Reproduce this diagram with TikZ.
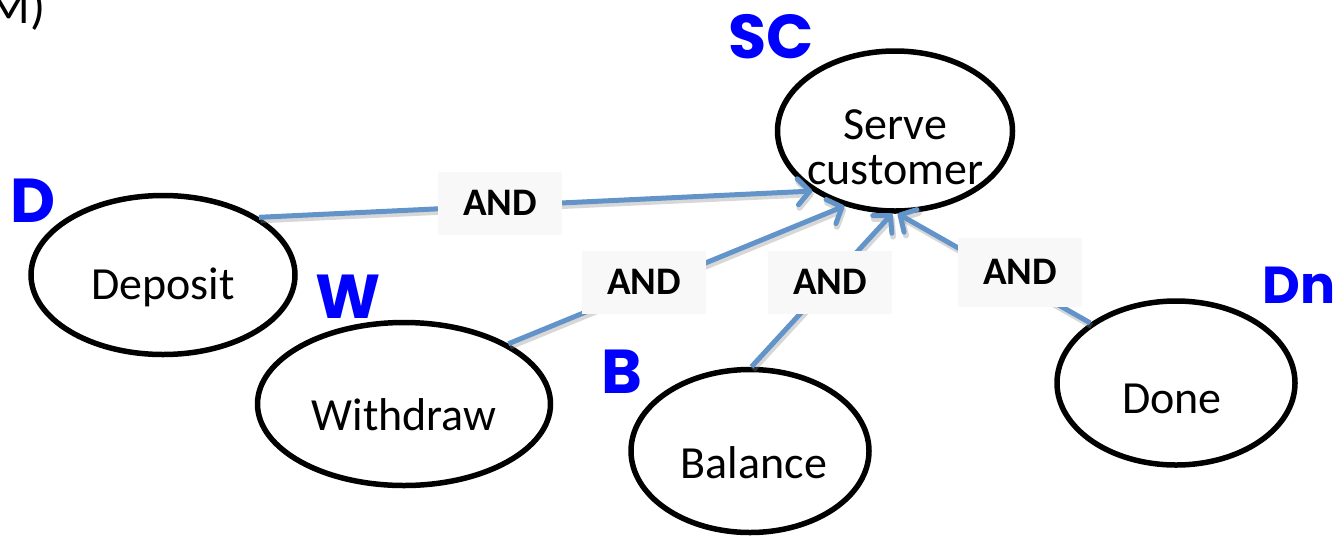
\documentclass[tikz,border=0pt]{standalone}
\usepackage{fontspec}
\setmainfont{Carlito}
\newfontfamily\handfont{Poppins}
\usetikzlibrary{shapes.geometric,arrows.meta}
\definecolor{linkblue}{RGB}{98,148,202}
\definecolor{tagblue}{RGB}{0,0,255}
\definecolor{boxgray}{RGB}{248,248,248}
\tikzset{
  goal/.style={ellipse, draw=black, line width=5.5pt, inner sep=0pt},
  goaltext/.style={anchor=base, inner sep=0pt, align=center,
    font=\fontsize{46}{45}\selectfont},
  link/.style={draw=linkblue, line width=5pt,
    -{Straight Barb[length=12pt,width=26pt,round]}},
  linkshadow/.style={draw=black!45, opacity=.35, line width=6pt,
    -{Straight Barb[length=12pt,width=26pt,round]},
    transform canvas={shift={(1.5pt,-3pt)}}},
  andbox/.style={fill=boxgray, inner sep=0pt, minimum width=124pt,
    minimum height=63pt, font=\fontsize{39}{44}\selectfont\bfseries},
  tag/.style={text=tagblue, inner sep=0pt, anchor=base,
    font=\handfont\bfseries\fontsize{62}{62}\selectfont}
}
\begin{document}
\begin{tikzpicture}[x=1pt,y=-1pt]
\useasboundingbox (0,0) rectangle (1335,536);

% heading fragment in the corner
\node[anchor=base east, inner sep=0pt, font=\fontsize{50}{60}\selectfont]
  (head) at (46,23) {M)};

% goals
\node[goal, minimum width=235pt, minimum height=160pt,
  label={[name=sc-t, goaltext, yshift=-16pt]center:{Serve\\customer}}]
  (sc) at (895,131) {};
\node[goal, minimum width=264pt, minimum height=159pt,
  label={[name=dep-t, goaltext, yshift=-12pt]center:Deposit}]
  (dep) at (163,275) {};
\node[goal, minimum width=293pt, minimum height=163pt,
  label={[name=wd-t, goaltext, yshift=-11pt]center:Withdraw}]
  (wd) at (404,404) {};
\node[goal, minimum width=238pt, minimum height=163pt,
  label={[name=bal-t, goaltext, yshift=-12pt, xshift=4pt]center:Balance}]
  (bal) at (750,451) {};
\node[goal, minimum width=238pt, minimum height=164pt,
  label={[name=done-t, goaltext, yshift=-16pt, xshift=-4pt]center:Done}]
  (done) at (1176,383) {};

% refinement links
\foreach \a/\b in {dep.31/sc.216, wd.30/sc.236, bal.89/sc.268, done.145/sc.272} {
  \draw[linkshadow] (\a) -- (\b);
  \draw[link] (\a) -- (\b);
}

% AND decompositions
\node[andbox] (and1) at (500,203) {AND};
\node[andbox] (and2) at (644,282) {AND};
\node[andbox] (and3) at (830,282) {AND};
\node[andbox, minimum height=69pt] (and4) at (1020,272) {AND};

% short names
\node[tag] (tsc) at (771,58) {SC};
\node[tag] (td) at (33,222) {D};
\node[tag] (tw) at (348,318) {W};
\node[tag] (tb) at (622,393) {B};
\node[tag, anchor=base west, font=\handfont\bfseries\fontsize{52}{52}\selectfont]
  (tdn) at (1262,303) {Dn};
\end{tikzpicture}
\end{document}
